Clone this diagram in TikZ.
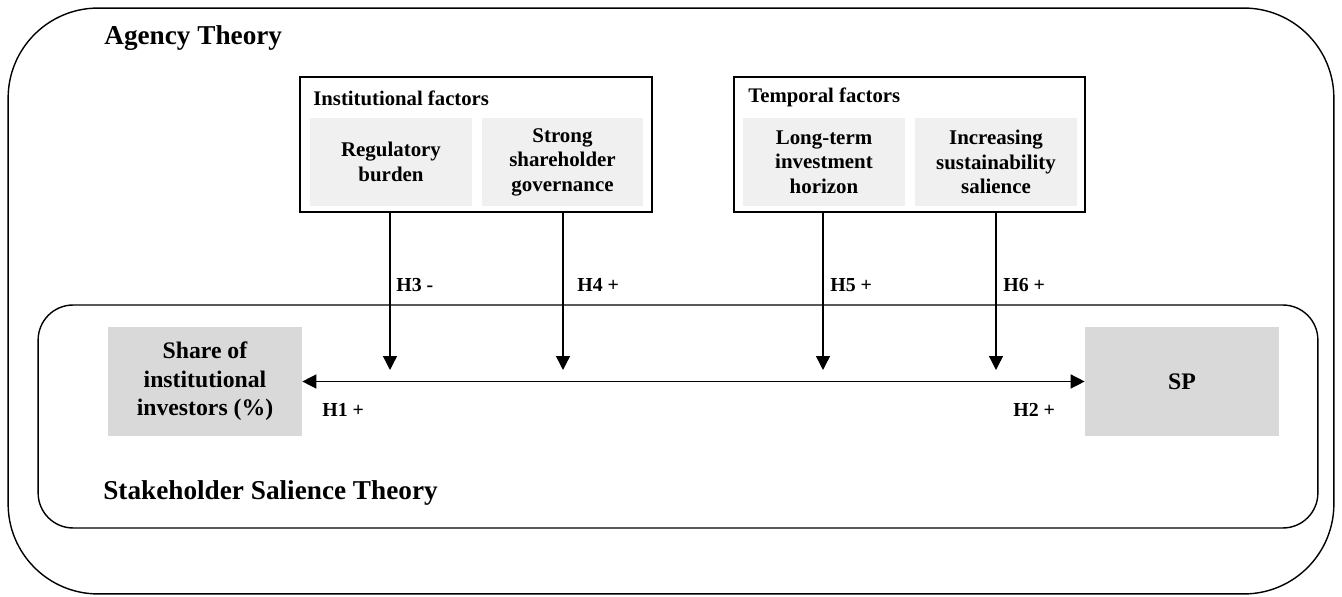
\documentclass[tikz,border=0pt]{standalone}
\usepackage{fontspec}
\setmainfont{Liberation Serif}
\usetikzlibrary{arrows.meta}

\begin{document}
\begin{tikzpicture}[
        x=0.02cm, y=-0.02cm,
        frame/.style={draw, line width=0.8pt, inner sep=0pt},
        factor/.style={fill=black!6, inner sep=0pt, minimum width=3.23cm, minimum height=1.76cm,
            align=center, font=\bfseries\fontsize{11.9}{13.9}\selectfont},
        mainvar/.style={fill=black!15, inner sep=0pt, minimum width=3.88cm, minimum height=2.18cm,
            align=center, font=\bfseries\fontsize{13.5}{16.2}\selectfont},
        heading/.style={anchor=west, inner sep=0pt, font=\bfseries\fontsize{11.8}{13}\selectfont},
        theory/.style={anchor=west, inner sep=0pt, font=\bfseries\fontsize{15.5}{17}\selectfont},
        hyp/.style={anchor=west, inner sep=0pt, font=\bfseries\fontsize{11.3}{12}\selectfont},
        link/.style={line width=0.8pt, -{Triangle[length=0.28cm, width=0.28cm]}}
    ]
    \useasboundingbox (0,0) rectangle (1342,597);

    % theory frames
    \node [frame, rounded corners=1.8cm, minimum width=26.52cm, minimum height=11.72cm] (agency) at (671,301) {};
    \node [frame, rounded corners=0.7cm, minimum width=25.6cm, minimum height=4.46cm] (salience) at (678,416.5) {};
    \node [theory] (agencyname) at (104,38) {Agency Theory};
    \node [theory] (saliencename) at (103,493) {Stakeholder Salience Theory};

    % moderators
    \node [frame, minimum width=7.04cm, minimum height=2.7cm] (inst) at (476,144.5) {};
    \node [frame, minimum width=7.02cm, minimum height=2.7cm] (temp) at (909.5,144.5) {};
    \node [heading] (instname) at (313,98) {Institutional factors};
    \node [heading] (tempname) at (748,97) {Temporal factors};
    \node [factor] (regulatory) at (391,162) {Regulatory\\burden};
    \node [factor] (governance) at (562.5,162) {Strong\\shareholder\\governance};
    \node [factor] (horizon) at (824,162) {Long-term\\investment\\horizon};
    \node [factor] (sustain) at (996,162) {Increasing\\sustainability\\salience};

    % main variables
    \node [mainvar] (share) at (205,381.5) {Share of\\institutional\\investors (\%)};
    \node [mainvar] (sp) at (1182,381.5) {SP};

    \draw [link, {Triangle[length=0.28cm, width=0.28cm]}-{Triangle[length=0.28cm, width=0.28cm]}] (share.east) -- (sp.west);

    \coordinate (t3) at (390,370);
    \coordinate (t4) at (563,370);
    \coordinate (t5) at (823,370);
    \coordinate (t6) at (996,370);
    \draw [link] (t3 |- inst.south) -- (t3);
    \draw [link] (t4 |- inst.south) -- (t4);
    \draw [link] (t5 |- temp.south) -- (t5);
    \draw [link] (t6 |- temp.south) -- (t6);

    % hypotheses
    \node [hyp] (h1) at (322,410) {H1 +};
    \node [hyp] (h2) at (1013,410) {H2 +};
    \node [hyp] (h3) at (396,285) {H3 -};
    \node [hyp] (h4) at (577,285) {H4 +};
    \node [hyp] (h5) at (830,285) {H5 +};
    \node [hyp] (h6) at (1003,285) {H6 +};
\end{tikzpicture}
\end{document}
